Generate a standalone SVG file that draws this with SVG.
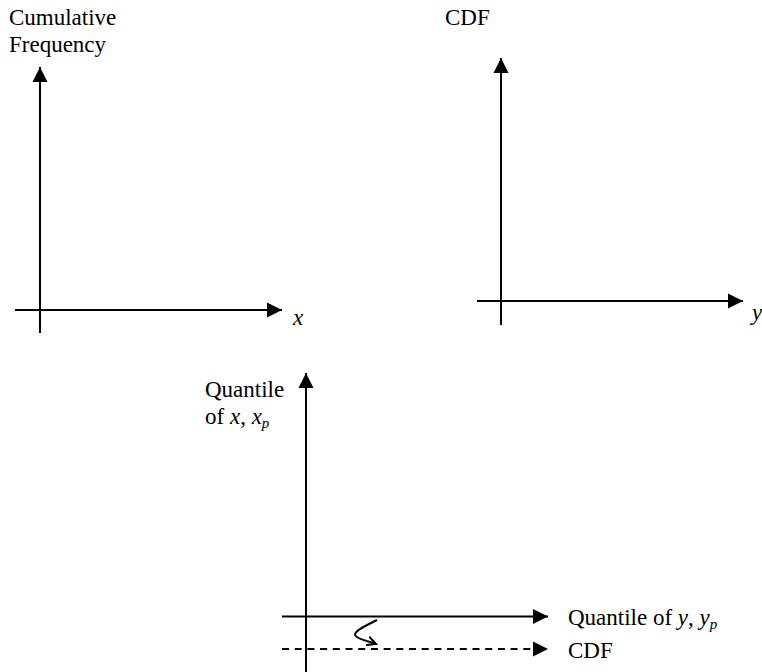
<svg xmlns="http://www.w3.org/2000/svg" width="762" height="672" viewBox="0 0 762 672">
<style>
.ax{stroke:#000;stroke-width:2;fill:none}
.dash{stroke:#000;stroke-width:2;fill:none;stroke-dasharray:7 5.7}
text{font-family:"Liberation Serif","Times New Roman",serif;font-size:23px;fill:#000}
.it{font-style:italic}
.sub{font-size:15px;font-style:italic}
</style>
<defs>
<marker id="ah" markerWidth="16" markerHeight="16" viewBox="0 0 16 16" refX="15" refY="8" orient="auto" markerUnits="userSpaceOnUse">
<path d="M0,0.5 L15,8 L0,15.5 Z" fill="#000"/>
</marker>
<marker id="sh" markerWidth="12" markerHeight="12" viewBox="0 0 12 12" refX="9" refY="6" orient="auto" markerUnits="userSpaceOnUse">
<path d="M0,1.5 L9,6 L0,10.5" fill="none" stroke="#000" stroke-width="2"/>
</marker>
</defs>
<g id="chart-cumfreq">
<text x="9" y="25">Cumulative</text>
<text x="9" y="52">Frequency</text>
<text x="293" y="325" class="it">x</text>
</g>
<g id="chart-cdf">
<text x="445" y="25">CDF</text>
<text x="752" y="320" class="it">y</text>
</g>
<g id="chart-quantile">
<text x="205" y="397">Quantile</text>
<text x="205" y="424">of <tspan class="it">x</tspan>, <tspan class="it">x</tspan><tspan class="sub" dy="4">p</tspan></text>
<text x="568" y="625">Quantile of <tspan class="it">y</tspan>, <tspan class="it">y</tspan><tspan class="sub" dy="4">p</tspan></text>
<text x="568" y="658">CDF</text>
</g>
<g id="connectors">
<line class="ax" x1="40" y1="333" x2="40" y2="67" marker-end="url(#ah)"/>
<line class="ax" x1="15" y1="310" x2="282" y2="310" marker-end="url(#ah)"/>
<line class="ax" x1="501" y1="325" x2="501" y2="58" marker-end="url(#ah)"/>
<line class="ax" x1="477" y1="301" x2="743" y2="301" marker-end="url(#ah)"/>
<line class="ax" x1="306" y1="672" x2="306" y2="373" marker-end="url(#ah)"/>
<line class="ax" x1="282" y1="616.5" x2="548" y2="616.5" marker-end="url(#ah)"/>
<line class="dash" x1="282" y1="649" x2="548" y2="649" marker-end="url(#ah)"/>
<path class="ax" d="M377,620 C363,627 350,633 357,637 C361,640 368,641 376,644" marker-end="url(#sh)"/>
</g>
</svg>
